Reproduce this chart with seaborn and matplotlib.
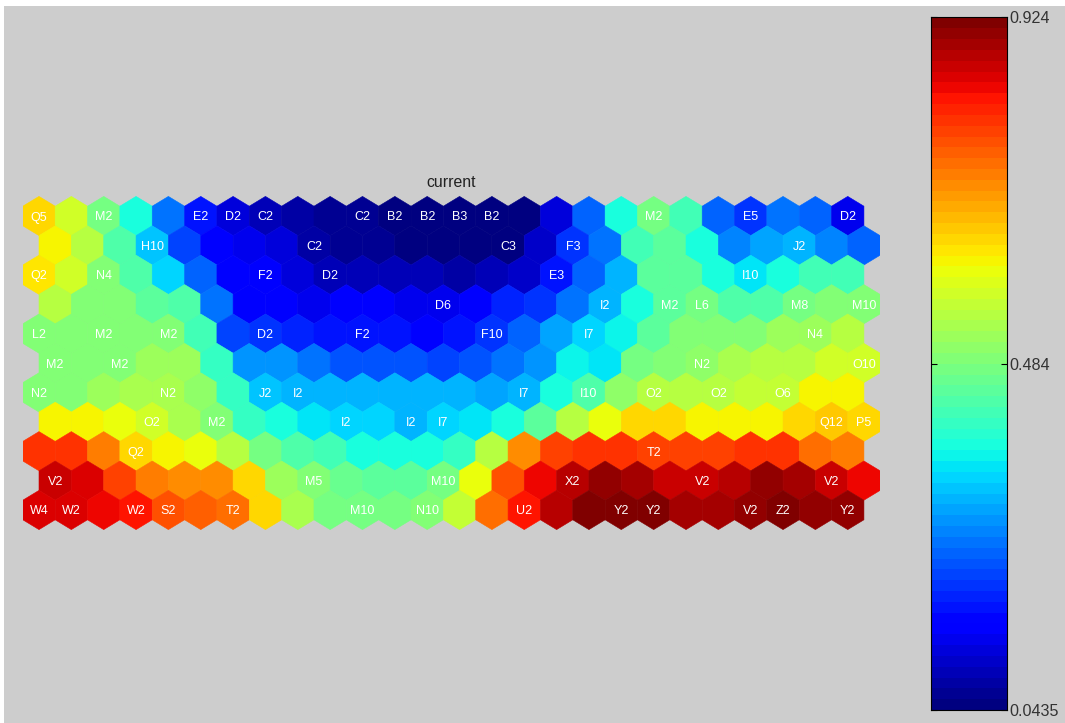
import numpy as np
import pandas as pd
import matplotlib
matplotlib.use("Agg")
import matplotlib.pyplot as plt
from matplotlib.colors import ListedColormap
from matplotlib.path import Path
from matplotlib.patches import Rectangle
import seaborn as sns

TITLE = "current"
VMIN, VMID, VMAX = 0.0435, 0.484, 0.924
TICK_LABELS = ["0.924", "0.484", "0.0435"]

row00 = [.642,.57,.475,.375,.255,.175,.115,.09,.08,.07,.065,.055,.055,.055,.055,.055,.125,.245,.385,.48,.425,.245,.208,.25,.245,.13]
row01 = [.615,.543,.434,.329,.219,.14,.13,.12,.08,.07,.06,.05,.05,.05,.055,.105,.197,.255,.415,.455,.375,.274,.296,.318,.274,.245]
row02 = [.625,.57,.485,.434,.34,.245,.14,.14,.115,.09,.095,.085,.085,.08,.085,.105,.175,.245,.318,.447,.447,.385,.35,.385,.42,.42]
row03 = [.543,.49,.49,.455,.434,.263,.14,.14,.13,.14,.14,.13,.13,.14,.186,.208,.263,.307,.385,.455,.475,.434,.434,.475,.49,.49]
row04 = [.489,.49,.49,.49,.49,.42,.219,.197,.186,.18,.18,.175,.14,.175,.197,.245,.296,.335,.37,.447,.49,.49,.49,.516,.516,.55]
row05 = [.49,.49,.49,.516,.516,.407,.28,.28,.263,.23,.235,.235,.219,.224,.255,.285,.365,.355,.475,.49,.505,.535,.55,.55,.57,.57]
row06 = [.49,.49,.516,.53,.53,.50,.407,.329,.307,.305,.305,.313,.313,.307,.296,.318,.375,.434,.505,.55,.543,.55,.557,.557,.615,.615]
row07 = [.615,.615,.598,.57,.535,.485,.407,.375,.355,.335,.335,.318,.335,.355,.375,.447,.55,.598,.645,.645,.615,.615,.615,.645,.655,.645]
row08 = [.80,.80,.726,.645,.615,.598,.55,.48,.434,.425,.385,.375,.385,.407,.55,.71,.78,.79,.79,.78,.775,.78,.80,.79,.745,.726]
row09 = [.865,.845,.785,.726,.715,.71,.645,.516,.49,.465,.447,.447,.475,.605,.77,.84,.88,.90,.885,.86,.86,.88,.905,.885,.86,.84]
row10 = [.855,.855,.84,.825,.77,.75,.735,.645,.53,.48,.48,.48,.489,.557,.745,.825,.87,.915,.92,.92,.885,.885,.905,.915,.905,.91]
ROWS = [row00,row01,row02,row03,row04,row05,row06,row07,row08,row09,row10]

# (row, column, text)
HIT_LABELS = [
    (0,0,"Q5"),(0,2,"M2"),(0,5,"E2"),(0,6,"D2"),(0,7,"C2"),(0,10,"C2"),(0,11,"B2"),(0,12,"B2"),
    (0,13,"B3"),(0,14,"B2"),(0,19,"M2"),(0,22,"E5"),(0,25,"D2"),
    (1,3,"H10"),(1,8,"C2"),(1,14,"C3"),(1,16,"F3"),(1,23,"J2"),
    (2,0,"Q2"),(2,2,"N4"),(2,7,"F2"),(2,9,"D2"),(2,16,"E3"),(2,22,"I10"),
    (3,12,"D6"),(3,17,"I2"),(3,19,"M2"),(3,20,"L6"),(3,23,"M8"),(3,25,"M10"),
    (4,0,"L2"),(4,2,"M2"),(4,4,"M2"),(4,7,"D2"),(4,10,"F2"),(4,14,"F10"),(4,17,"I7"),(4,24,"N4"),
    (5,0,"M2"),(5,2,"M2"),(5,20,"N2"),(5,25,"O10"),
    (6,0,"N2"),(6,4,"N2"),(6,7,"J2"),(6,8,"I2"),(6,15,"I7"),(6,17,"I10"),(6,19,"O2"),(6,21,"O2"),(6,23,"O6"),
    (7,3,"O2"),(7,5,"M2"),(7,9,"I2"),(7,11,"I2"),(7,12,"I7"),(7,24,"Q12"),(7,25,"P5"),
    (8,3,"Q2"),(8,19,"T2"),
    (9,0,"V2"),(9,8,"M5"),(9,12,"M10"),(9,16,"X2"),(9,20,"V2"),(9,24,"V2"),
    (10,0,"W4"),(10,1,"W2"),(10,3,"W2"),(10,4,"S2"),(10,6,"T2"),(10,10,"M10"),(10,12,"N10"),
    (10,15,"U2"),(10,18,"Y2"),(10,19,"Y2"),(10,22,"V2"),(10,23,"Z2"),(10,25,"Y2"),
]

W, H = 1065, 723
DX, DY = 32.35, 29.4
X0, Y0 = 39.0, 216.0
GRAY = "#CDCDCD"
FONT = "Liberation Sans"

jet64 = ListedColormap(plt.get_cmap("jet", 64)(np.arange(64)))

sns.set_theme(style="white", rc={"font.family": FONT})

fig = plt.figure(figsize=(W / 100, H / 100), dpi=100, facecolor="white")
fig.add_artist(Rectangle((4 / W, 0), 1, 1 - 6 / H, transform=fig.transFigure,
                         facecolor=GRAY, edgecolor="none", zorder=-10))


def rect(l, t, r, b):
    return [l / W, 1 - b / H, (r - l) / W, (b - t) / H]


# hexagonal map plane
left = X0 - 0.5 * DX
right = left + 26.5 * DX
top = Y0 - DY * 2 / 3
bottom = top + DY * (10 + 4 / 3)
ax = fig.add_axes(rect(left, top, right, bottom))
ax.patch.set_alpha(0)

records = [
    {"col": c + 0.5 * (r % 2), "row": r, "value": v}
    for r, vals in enumerate(ROWS) for c, v in enumerate(vals)
]
df = pd.DataFrame(records)

hw = DX / (DY * 4 / 3)
hex_path = Path([(0, 1), (hw, 0.5), (hw, -0.5), (0, -1), (-hw, -0.5), (-hw, 0.5), (0, 1)], closed=True)
size_pt = (DY * 4 / 3) * 72 / 100
sns.scatterplot(data=df, x="col", y="row", hue="value", palette=jet64,
                hue_norm=(VMIN, VMAX), marker=hex_path, s=size_pt ** 2,
                linewidth=0.4, edgecolor="face", legend=False, ax=ax)
ax.set_xlim(-0.5, 26.0)
ax.set_ylim(10 + 2 / 3, -2 / 3)
ax.axis("off")
ax.set_title(TITLE, fontsize=11.4, family=FONT, color="#222222", pad=7)

for r, c, t in HIT_LABELS:
    ax.text(c + 0.5 * (r % 2), r, t, color="white", fontsize=9, family=FONT,
            ha="center", va="center_baseline")

# colour bar
cax = fig.add_axes(rect(931.5, 17.5, 1007, 710))
levels = np.linspace(VMAX, VMIN, 64)[:, None]
sns.heatmap(levels, cmap=jet64, vmin=VMIN, vmax=VMAX, cbar=False,
            xticklabels=False, yticklabels=False, ax=cax)
for s in cax.spines.values():
    s.set_visible(True)
    s.set_color("black")
    s.set_linewidth(0.8)
cax.set_axisbelow(False)
cax.set_yticks([0, 32, 64])
cax.set_yticklabels(TICK_LABELS, family=FONT, fontsize=11.6, color="#333333")
cax.tick_params(axis="y", left=True, right=True, labelleft=False, labelright=True,
                direction="in", length=4.5, width=0.8, color="black", pad=2)
for lab in cax.get_yticklabels():
    lab.set_rotation(0)
    lab.set_va("center_baseline")

fig.savefig("out.png", dpi=100, facecolor=fig.get_facecolor())
